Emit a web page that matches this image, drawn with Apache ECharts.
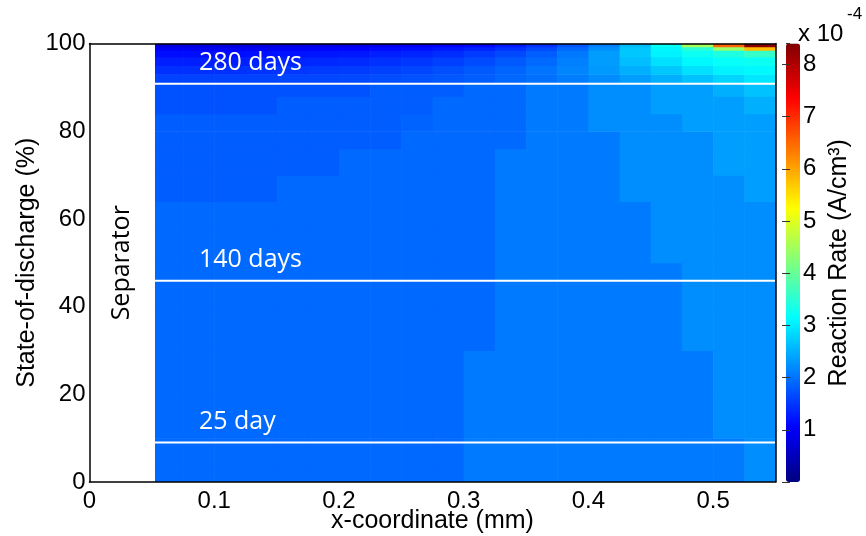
<!DOCTYPE html>
<html><head><meta charset="utf-8">
<script src="https://cdn.jsdelivr.net/npm/echarts@6/dist/echarts.min.js"></script>
<style>html,body{margin:0;padding:0;background:#fff}#c{width:866px;height:536px}</style>
</head><body><div id="c"></div>
<script>
// ---- data (reaction rate in units of 1e-4 A/cm^3) ----
const separatorEnd = 0.0525;
const xEdges = [0.0525,0.075,0.1,0.125,0.15,0.175,0.2,0.225,0.25,0.275,0.3,0.325,0.35,0.375,0.4,0.425,0.45,0.475,0.5,0.525,0.55];
const yEdges = [0,3,10,20,30,40,50,58,64,70,76,80,84,88,91,93,95,97,98.5,99.3,100];
// one row per y band (bottom to top), one value per x column
const rateRows = [
  [1.92,1.92,1.92,1.92,1.92,1.92,1.92,1.92,1.92,1.92,2.07,2.07,2.07,2.07,2.07,2.07,2.07,2.07,2.07,2.22],
  [1.92,1.92,1.92,1.92,1.92,1.92,1.92,1.92,1.92,1.92,2.07,2.07,2.07,2.07,2.07,2.07,2.07,2.07,2.07,2.22],
  [1.92,1.92,1.92,1.92,1.92,1.92,1.92,1.92,1.92,1.92,2.07,2.07,2.07,2.07,2.07,2.07,2.07,2.07,2.22,2.22],
  [1.92,1.92,1.92,1.92,1.92,1.92,1.92,1.92,1.92,1.92,2.07,2.07,2.07,2.07,2.07,2.07,2.07,2.07,2.22,2.22],
  [1.92,1.92,1.92,1.92,1.92,1.92,1.92,1.92,1.92,1.92,1.92,2.07,2.07,2.07,2.07,2.07,2.07,2.22,2.22,2.22],
  [1.92,1.92,1.92,1.92,1.92,1.92,1.92,1.92,1.92,1.92,1.92,2.07,2.07,2.07,2.07,2.07,2.07,2.22,2.22,2.22],
  [1.92,1.92,1.92,1.92,1.92,1.92,1.92,1.92,1.92,1.92,1.92,2.07,2.07,2.07,2.07,2.07,2.22,2.22,2.22,2.22],
  [1.92,1.92,1.92,1.92,1.92,1.92,1.92,1.92,1.92,1.92,1.92,2.07,2.07,2.07,2.07,2.07,2.22,2.22,2.22,2.22],
  [1.82,1.82,1.82,1.82,1.92,1.92,1.92,1.92,1.92,1.92,1.92,2.07,2.07,2.07,2.07,2.22,2.22,2.22,2.22,2.36],
  [1.82,1.82,1.82,1.82,1.82,1.82,1.92,1.92,1.92,1.92,1.92,2.07,2.07,2.07,2.07,2.22,2.22,2.22,2.36,2.36],
  [1.82,1.82,1.82,1.82,1.82,1.82,1.82,1.82,1.92,1.92,1.92,1.92,2.07,2.07,2.07,2.22,2.22,2.22,2.36,2.36],
  [1.82,1.82,1.82,1.82,1.82,1.82,1.82,1.82,1.87,1.92,1.92,1.92,2.07,2.07,2.22,2.22,2.22,2.36,2.36,2.36],
  [1.72,1.72,1.72,1.72,1.82,1.82,1.82,1.82,1.82,1.92,1.92,1.92,2.07,2.07,2.22,2.22,2.36,2.36,2.36,2.5],
  [1.72,1.72,1.72,1.72,1.72,1.72,1.72,1.82,1.82,1.82,1.92,1.92,2.07,2.07,2.22,2.22,2.36,2.36,2.5,2.65],
  [1.6,1.6,1.6,1.6,1.62,1.63,1.65,1.68,1.72,1.77,1.82,1.9,1.98,2.08,2.2,2.35,2.5,2.65,2.8,2.95],
  [1.45,1.45,1.45,1.47,1.5,1.52,1.55,1.58,1.63,1.7,1.78,1.88,2.0,2.15,2.32,2.5,2.7,2.9,3.05,3.1],
  [1.3,1.3,1.3,1.32,1.35,1.37,1.4,1.45,1.5,1.57,1.66,1.78,1.92,2.1,2.35,2.62,2.9,3.1,3.2,3.25],
  [1.15,1.15,1.15,1.17,1.2,1.22,1.25,1.3,1.35,1.42,1.52,1.65,1.82,2.05,2.35,2.7,3.05,3.25,3.4,3.6],
  [0.95,0.95,0.95,0.97,1.0,1.02,1.05,1.1,1.15,1.22,1.32,1.45,1.65,1.9,2.25,2.7,3.1,3.5,4.4,5.8],
  [0.75,0.75,0.75,0.77,0.8,0.82,0.85,0.9,0.95,1.02,1.1,1.25,1.45,1.75,2.1,2.6,3.2,4.5,6.5,8.3]
];
const dayLineLevels = [9.0, 45.9, 90.8];
const dayLineNames = ['25 day', '140 days', '280 days'];
const rateMin = 0, rateMax = 8.4;
const jetColors = ['#00007F','#0000FF','#007FFF','#00FFFF','#7FFF7F','#FFFF00','#FF7F00','#FF0000','#7F0000'];

// ---- build ----
const cells = [];
rateRows.forEach((row, r) => row.forEach((v, c) => {
  cells.push([xEdges[c], xEdges[c + 1], yEdges[r], yEdges[r + 1], v]);
}));
const AX = 'Liberation Sans';
const GL = {left: 89.5, top: 43.5, width: 686, height: 438.5};
const CB = {left: 786, top: 43.5, width: 14, height: 438.5};

const chart = echarts.init(document.getElementById('c'), null, {renderer: 'canvas'});
const lineSeries = dayLineLevels.map(y => ({
  type: 'line', xAxisIndex: 0, yAxisIndex: 0, symbol: 'none', silent: true,
  data: [[separatorEnd, y], [xEdges[xEdges.length - 1], y]],
  lineStyle: {color: '#fff', width: 2}, z: 3
}));
chart.setOption({
  animation: false,
  backgroundColor: '#fff',
  grid: [
    {left: GL.left, top: GL.top, width: GL.width, height: GL.height, containLabel: false, outerBoundsMode: 'none'},
    {left: CB.left, top: CB.top, width: CB.width, height: CB.height, containLabel: false, outerBoundsMode: 'none'}
  ],
  xAxis: [
    {gridIndex: 0, type: 'value', min: 0, max: 0.55, interval: 0.1, z: 10,
     axisLine: {show: true, onZero: false, lineStyle: {color: '#000', width: 1.5}},
     axisTick: {show: false}, splitLine: {show: false},
     axisLabel: {fontSize: 24, color: '#000', fontFamily: AX, margin: 7,
       formatter: v => v > 0.52 ? '' : String(Math.round(v * 10) / 10)},
     name: 'x-coordinate (mm)', nameLocation: 'middle', nameGap: 27, nameMoveOverlap: false,
     nameTextStyle: {fontSize: 25, color: '#000', fontFamily: AX}},
    {gridIndex: 0, type: 'value', position: 'top', min: 0, max: 0.55, z: 10,
     axisLine: {show: true, onZero: false, lineStyle: {color: '#000', width: 1.5}},
     axisTick: {show: false}, axisLabel: {show: false}, splitLine: {show: false}},
    {gridIndex: 1, type: 'value', min: 0, max: 1, show: false}
  ],
  yAxis: [
    {gridIndex: 0, type: 'value', min: 0, max: 100, interval: 20, z: 10,
     axisLine: {show: true, onZero: false, lineStyle: {color: '#000', width: 1.5}},
     axisTick: {show: false}, splitLine: {show: false},
     axisLabel: {fontSize: 24, color: '#000', fontFamily: AX, margin: 4},
     name: 'State-of-discharge (%)', nameLocation: 'middle', nameGap: 50, nameRotate: 90, nameMoveOverlap: false,
     nameTextStyle: {fontSize: 25, color: '#000', fontFamily: AX}},
    {gridIndex: 0, type: 'value', position: 'right', min: 0, max: 100, z: 10,
     axisLine: {show: true, onZero: false, lineStyle: {color: '#000', width: 1.5}},
     axisTick: {show: false}, axisLabel: {show: false}, splitLine: {show: false}},
    {gridIndex: 1, type: 'value', position: 'right', min: rateMin, max: rateMax, interval: 1, z: 10,
     axisLine: {show: false}, splitLine: {show: false},
     axisTick: {show: true, inside: true, length: 4, lineStyle: {color: '#333', width: 1}},
     axisLabel: {fontSize: 24, color: '#000', fontFamily: AX, margin: 3,
       formatter: v => (v < 0.5 ? '' : String(v))},
     name: 'Reaction Rate (A/cm³)', nameLocation: 'middle', nameGap: 27, nameRotate: 90, nameMoveOverlap: false,
     nameTextStyle: {fontSize: 25, color: '#000', fontFamily: AX}},
    {gridIndex: 1, type: 'value', position: 'left', min: rateMin, max: rateMax, interval: 1, z: 10,
     axisLine: {show: false}, splitLine: {show: false}, axisLabel: {show: false},
     axisTick: {show: true, inside: true, length: 4, lineStyle: {color: '#333', width: 1}}}
  ],
  visualMap: {
    type: 'continuous', min: rateMin, max: rateMax, seriesIndex: 0, dimension: 4,
    calculable: false, realtime: false, hoverLink: false, showLabel: false,
    left: CB.left, top: CB.top, itemWidth: CB.width, itemHeight: CB.height, padding: 0,
    inRange: {color: jetColors}
  },
  graphic: [
    {type: 'text', left: 798, top: 22, style: {text: 'x 10', font: '24px "Liberation Sans"', fill: '#000'}},
    {type: 'text', left: 847, top: 6, style: {text: '-4', font: '17px "Liberation Sans"', fill: '#000'}}
  ],
  series: [
    {type: 'custom', xAxisIndex: 0, yAxisIndex: 0, clip: true, silent: true,
     encode: {x: [0, 1], y: [2, 3]},
     data: cells,
     renderItem: function (params, api) {
       const p0 = api.coord([api.value(0), api.value(3)]);
       const p1 = api.coord([api.value(1), api.value(2)]);
       return {type: 'rect',
         shape: {x: p0[0], y: p0[1], width: p1[0] - p0[0] + 0.6, height: p1[1] - p0[1] + 0.6},
         style: {fill: api.visual('color')}};
     }},
    ...lineSeries,
    {type: 'scatter', xAxisIndex: 0, yAxisIndex: 0, symbolSize: 0, silent: true, z: 4,
     itemStyle: {color: '#fff', opacity: 1},
     data: dayLineLevels.map((y, i) => ({value: [separatorEnd, y], name: dayLineNames[i]})),
     label: {show: true, formatter: '{b}', position: [44, -21], align: 'left', verticalAlign: 'middle',
       color: '#ffffff', opacity: 1, fontSize: 25, fontFamily: 'Open Sans'}},
    {type: 'scatter', xAxisIndex: 0, yAxisIndex: 0, symbolSize: 0, silent: true, z: 4,
     itemStyle: {color: '#fff', opacity: 1},
     data: [{value: [separatorEnd / 2, 50], name: 'Separator'}],
     label: {show: true, formatter: '{b}', position: [0, 0], align: 'center', verticalAlign: 'middle',
       rotate: 90, color: '#000000', opacity: 1, fontSize: 25, fontFamily: 'Open Sans'}},
    {type: 'scatter', xAxisIndex: 2, yAxisIndex: 2, data: [], silent: true}
  ]
});
</script></body></html>
